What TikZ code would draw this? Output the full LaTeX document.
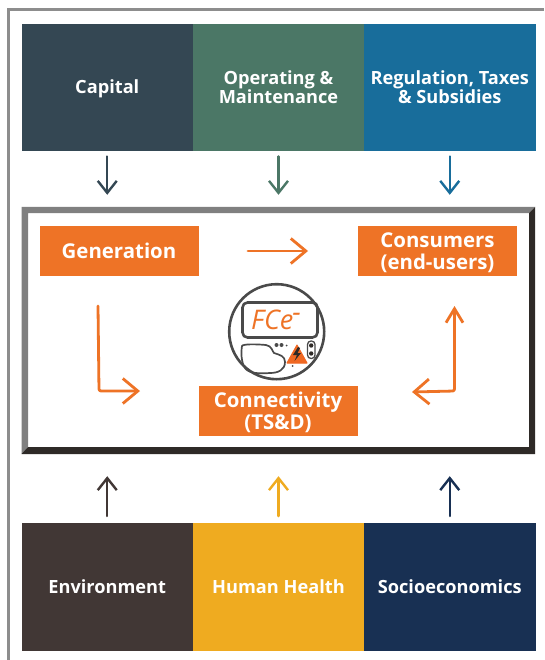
\documentclass[tikz,border=0pt]{standalone}
\usepackage{fontspec}
\setmainfont{Open Sans}[BoldFont={Open Sans Bold}]
\usetikzlibrary{arrows.meta,calc}
\definecolor{capc}{HTML}{344753}
\definecolor{omc}{HTML}{4B7766}
\definecolor{regc}{HTML}{186D9B}
\definecolor{envc}{HTML}{413735}
\definecolor{hhc}{HTML}{EFAB20}
\definecolor{socc}{HTML}{183053}
\definecolor{orng}{HTML}{EE7326}
\definecolor{frameg}{HTML}{808080}
\definecolor{framed}{HTML}{2E2A27}
\definecolor{meterg}{HTML}{4A4A4A}
\newcommand{\onelabel}[1]{\raisebox{-6pt}[0pt][0pt]{#1}}
\tikzset{
  x=1pt,y=-1pt,
  band/.style={minimum width=171.5pt,minimum height=127.5pt,inner sep=2pt,align=center,text=white,
    font=\fontsize{18.2}{18}\selectfont\bfseries},
  stage/.style={fill=orng,minimum width=159pt,minimum height=50pt,inner sep=0pt,align=center,text=white,
    font=\fontsize{20.4}{22}\selectfont\bfseries},
  barb/.style={-{Straight Barb[length=12pt,width=19pt,line width=2.4pt]},line width=2.4pt,line cap=round,line join=round},
  flowline/.style={line width=2.8pt,orng,line cap=round,line join=round,rounded corners=2pt},
  flow/.style={flowline,-{Straight Barb[length=15pt,width=25pt,line width=2.8pt]}},
  flowtwo/.style={flowline,{Straight Barb[length=15pt,width=25pt,line width=2.8pt]}-{Straight Barb[length=14pt,width=17pt,line width=2.8pt]}},
}
\begin{document}
\begin{tikzpicture}
\useasboundingbox (0,0) rectangle (544,660);
\fill[white] (0,0) rectangle (544,660);
% outer page frame
\draw[frameg!90,line width=3pt] (8,660) -- (8,9.5) -- (544,9.5);
% top bands
\node[band,fill=capc] (capital) at (107.25,87.5) {\onelabel{Capital}};
\node[band,fill=omc] (om) at (278.5,87.5) {Operating \&\\Maintenance};
\node[band,fill=regc] (reg) at (449.75,87.5) {Regulation, Taxes\\\& Subsidies};
% bottom bands
\node[band,fill=envc] (env) at (107.25,587) {\onelabel{Environment}};
\node[band,fill=hhc] (health) at (278.5,587) {\onelabel{Human Health}};
\node[band,fill=socc] (socio) at (449.75,587) {\onelabel{Socioeconomics}};
% bevelled central frame
\fill[frameg] (21.5,207) -- (535,207) -- (529,213) -- (28,213) -- (28,447) -- (21.5,454) -- cycle;
\fill[framed] (535,207) -- (535,454) -- (21.5,454) -- (28,447) -- (529,447) -- (529,213) -- cycle;
\node[minimum width=513.5pt,minimum height=247pt,inner sep=0pt] (frame) at (278.25,330.5) {};
% stages
\node[stage] (gen) at (119,251) {Generation};
\node[stage] (cons) at (437.5,251) {\rule{0pt}{19pt}Consumers\\(end-users)};
\node[stage] (conn) at (278,410.5) {\rule{0pt}{19pt}Connectivity\\(TS\&D)};
% top and bottom arrows
\draw[barb,capc] ([yshift=-5pt]capital.south) -- ([yshift=12pt]capital.south |- frame.north);
\draw[barb,omc] ([yshift=-5pt]om.south) -- ([yshift=12pt]om.south |- frame.north);
\draw[barb,regc] ([yshift=-5pt]reg.south) -- ([yshift=12pt]reg.south |- frame.north);
\draw[barb,envc] ([yshift=7pt]env.north) -- ([yshift=-22pt]env.north |- frame.south);
\draw[barb,hhc] ([yshift=7pt]health.north) -- ([yshift=-22pt]health.north |- frame.south);
\draw[barb,socc] ([yshift=7pt]socio.north) -- ([yshift=-22pt]socio.north |- frame.south);
% orange flows
\coordinate (g1) at (248,251);
\coordinate (g2) at (308,251);
\coordinate (l1) at (98,306);
\coordinate (lc) at (99,391);
\coordinate (l2) at (140,391);
\coordinate (r1) at (412,392);
\coordinate (rc) at (454.5,391);
\coordinate (r2) at (454.5,306);
\draw[flow] (g1) -- (g2);
\draw[flow] (l1) -- (lc) -- (l2);
\draw[flowtwo] (r1) -- (rc) -- (r2);
% meter
\node[circle,draw=meterg,line width=2.6pt,minimum size=95pt,inner sep=0pt] (meter) at (276.7,331.7) {};
\node[draw=meterg,line width=2.6pt,rounded corners=5pt,minimum width=75pt,minimum height=35pt,inner sep=0pt] (display) at (280,320) {};
\node[text=orng,inner sep=0pt,font=\fontsize{27}{27}\selectfont\itshape] (readout) at (276,320) {FCe\kern-1pt\raisebox{8pt}{-}};
\draw[meterg,line width=1.7pt]
  (242,346) .. controls (243,344) and (255,344) .. (266,345)
  .. controls (272,346) and (272,351) .. (274,353)
  .. controls (280,355) and (285,356) .. (285,362)
  .. controls (285,370) and (278,373) .. (270,373)
  .. controls (258,374) and (248,373) .. (245,368)
  .. controls (241,362) and (241,352) .. (242,346) -- cycle;
\fill[meterg] (276.5,345) circle (2pt) (281.5,345) circle (2pt) (286.5,345.5) circle (1pt) (292.5,366) circle (1pt);
\fill[orng!90!red,line join=round,draw=orng!90!red,line width=1pt] (287,363) -- (297,345) -- (307,363) -- cycle;
\fill[framed] (298,347) -- (293,355) -- (297,355) -- (294.5,361) -- (301,353) -- (297.5,353) -- (300,348) -- cycle;
\draw[meterg,line width=1.3pt,rounded corners=3.5pt] (307.5,341) rectangle (315,358.5);
\fill[framed] (311.2,345.5) circle (2.2pt) (311.2,353.5) circle (2.2pt);
\end{tikzpicture}
\end{document}
